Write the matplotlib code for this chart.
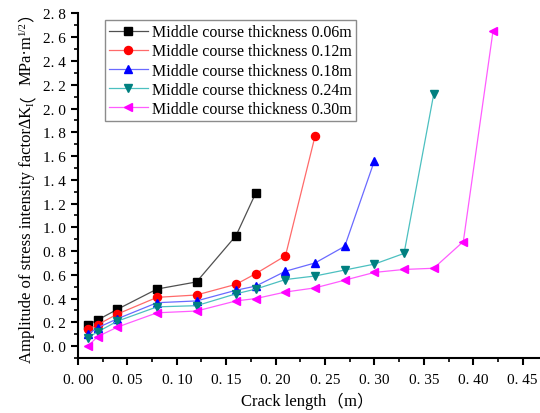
import matplotlib
matplotlib.use("Agg")
import numpy as np
import matplotlib.pyplot as plt
from matplotlib.ticker import MultipleLocator, FuncFormatter

# Crack length (m) and stress intensity factor amplitude (MPa·m^1/2)
x_006 = [0.01, 0.02, 0.04, 0.08, 0.12, 0.16, 0.18]
y_006 = [0.18, 0.22, 0.31, 0.48, 0.54, 0.93, 1.29]

x_012 = [0.01, 0.02, 0.04, 0.08, 0.12, 0.16, 0.18, 0.21, 0.24]
y_012 = [0.14, 0.18, 0.27, 0.41, 0.43, 0.52, 0.61, 0.76, 1.77]

x_018 = [0.01, 0.02, 0.04, 0.08, 0.12, 0.16, 0.18, 0.21, 0.24, 0.27, 0.30]
y_018 = [0.10, 0.155, 0.23, 0.365, 0.38, 0.47, 0.505, 0.63, 0.70, 0.84, 1.56]

x_024 = [0.01, 0.02, 0.04, 0.08, 0.12, 0.16, 0.18, 0.21, 0.24, 0.27, 0.30, 0.33, 0.36]
y_024 = [0.07, 0.12, 0.21, 0.33, 0.34, 0.44, 0.48, 0.56, 0.59, 0.64, 0.69, 0.78, 2.12]

x_030 = [0.01, 0.02, 0.04, 0.08, 0.12, 0.16, 0.18, 0.21, 0.24, 0.27, 0.30, 0.33, 0.36, 0.39, 0.42]
y_030 = [0.00, 0.08, 0.16, 0.28, 0.295, 0.38, 0.40, 0.455, 0.49, 0.555, 0.62, 0.645, 0.655, 0.88, 2.65]

labels = ["Middle course thickness 0.06m",
          "Middle course thickness 0.12m",
          "Middle course thickness 0.18m",
          "Middle course thickness 0.24m",
          "Middle course thickness 0.30m"]

series = [(x_006, y_006), (x_012, y_012), (x_018, y_018), (x_024, y_024), (x_030, y_030)]
marker_colors = ["#000000", "#ff0000", "#0000ff", "#008080", "#ff00ff"]
line_colors = ["#505050", "#ff6a6a", "#6a6aff", "#4cc0c0", "#ff5cff"]
markers = ["s", "o", "^", "v", "<"]

SERIF = ["Liberation Serif", "DejaVu Serif", "Noto Sans CJK SC"]
CJK = ["Noto Sans CJK SC"]
plt.rcParams["font.family"] = SERIF

fig = plt.figure(figsize=(5.4, 4.14), dpi=100)
ax = fig.add_axes([0.1444, 0.133, 0.86, 0.832])

for (xs, ys), lab, mc, lc, mk in zip(series, labels, marker_colors, line_colors, markers):
    ax.plot(xs, ys, color=lc, lw=0.9, marker=mk, markersize=5.8,
            markerfacecolor=mc, markeredgecolor=mc, label=lab)

ax.set_xlim(0, 0.47)
ax.set_ylim(-0.1, 2.8)
ax.xaxis.set_major_locator(MultipleLocator(0.05))
ax.xaxis.set_minor_locator(MultipleLocator(0.025))
ax.yaxis.set_major_locator(MultipleLocator(0.2))
ax.yaxis.set_minor_locator(MultipleLocator(0.1))

def fmt_x(v, pos):
    if v < -1e-9 or v > 0.4501:
        return ""
    return "0. %02d" % round(v * 100)

def fmt_y(v, pos):
    if v < -1e-9:
        return ""
    return ("%.1f" % v).replace(".", ". ")

ax.xaxis.set_major_formatter(FuncFormatter(fmt_x))
ax.yaxis.set_major_formatter(FuncFormatter(fmt_y))

for side in ("top", "right"):
    ax.spines[side].set_visible(False)
for side in ("left", "bottom"):
    ax.spines[side].set_linewidth(1.5)

ax.tick_params(axis="both", which="major", direction="out", length=5, width=1.5,
               labelsize=11, colors="black")
ax.tick_params(axis="both", which="minor", direction="out", length=3, width=1.2)
ax.tick_params(axis="x", pad=6)

leg = ax.legend(loc="upper left", bbox_to_anchor=(0.052, 0.99), fontsize=11.5,
                frameon=True, fancybox=False, borderpad=0.25, labelspacing=0.2,
                handlelength=2.4, handletextpad=0.3, borderaxespad=0.2)
leg.get_frame().set_edgecolor("#707070")
leg.get_frame().set_linewidth(1.0)

fig.canvas.draw()
renderer = fig.canvas.get_renderer()
W, H = fig.bbox.width, fig.bbox.height
fs = 12.0
fs_px = fs * fig.dpi / 72.0


def run_of_text(pieces, rotation, base, centre):
    """Lay out (text, size, family, baseline shift) pieces end to end."""
    texts = []
    for s, size, fam, shift in pieces:
        t = fig.text(0, 0, s, rotation=rotation, rotation_mode="anchor",
                     ha="left", va="baseline", fontsize=size, family=fam)
        texts.append((t, shift, fam is CJK))
    bbs = [t.get_window_extent(renderer) for t, _, _ in texts]
    lengths = [b.height if rotation == 90 else b.width for b in bbs]
    pos = centre - sum(lengths) / 2
    for (t, shift, _), ln in zip(texts, lengths):
        if rotation == 90:
            t.set_position(((base + shift) / W, pos / H))
        else:
            t.set_position((pos / W, (base + shift) / H))
        pos += ln
    return texts


# Horizontal axis title
run_of_text([("Crack length", fs, SERIF, 0.0),
             ("（", fs, CJK, 0.0),
             ("m", fs, SERIF, 0.0),
             ("）", fs, CJK, 0.0)],
            0, 8.0, 307.0)

# Vertical axis title with subscript, superscript and full-width brackets
ybase = 31.0
vtexts = run_of_text([("Amplitude of stress intensity factor\u2206K", fs, SERIF, 0.0),
                      ("I", fs * 0.65, SERIF, 3.0),
                      ("（", fs, CJK, 0.0),
                      ("MPa·m", fs, SERIF, 0.0),
                      ("1/2", fs * 0.65, SERIF, -5.5),
                      ("）", fs, CJK, 0.0)],
                     90, ybase, 230.0)

# Bring the rotated bracket glyphs onto the common baseline: find where their
# ink actually lands (left of the tick labels) and centre it on mid-height.
fig.canvas.draw()
img = np.asarray(fig.canvas.buffer_rgba())[:, :, :3].astype(int)
dark = img.sum(axis=2) < 500
for t, shift, is_cjk in vtexts:
    if not is_cjk:
        continue
    bb = t.get_window_extent(renderer)
    r0 = max(int(np.ceil(H - bb.y1)) + 1, 0)
    r1 = min(int(np.floor(H - bb.y0)) - 1, int(H))
    cols = np.where(dark[r0:r1, :40].any(axis=0))[0]
    if cols.size:
        centre_now = (cols.min() + cols.max()) / 2.0
        target = ybase - 0.36 * fs_px
        x0, y0 = t.get_position()
        t.set_position((x0 + (target - centre_now) / W, y0))

fig.savefig("out.png", dpi=100)
